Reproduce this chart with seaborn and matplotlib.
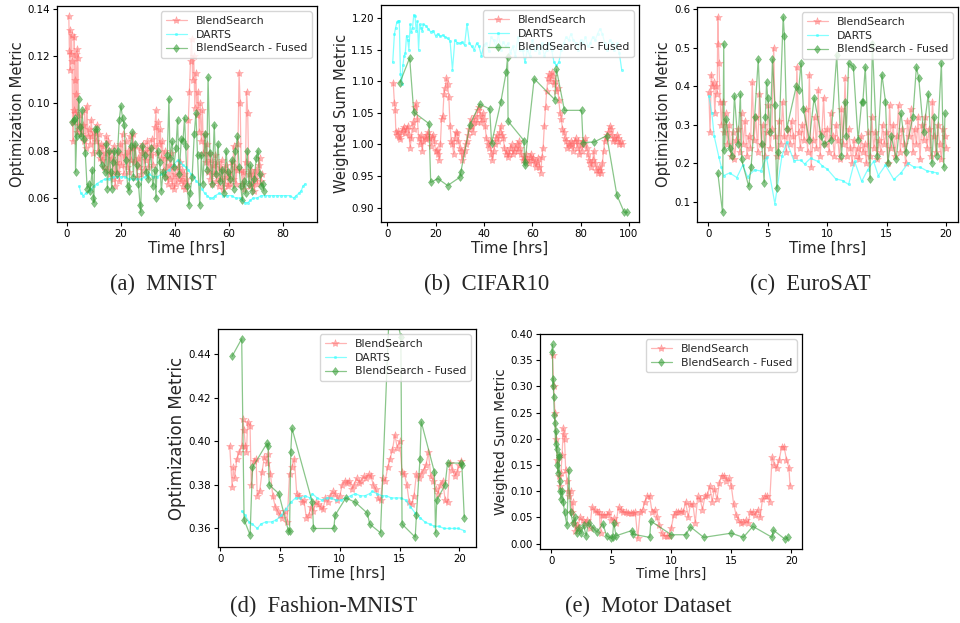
import numpy as np
import pandas as pd
import matplotlib
matplotlib.use("Agg")
import matplotlib.pyplot as plt
import seaborn as sns
from matplotlib.ticker import MultipleLocator, FormatStrFormatter

# ---------------- data (time [hrs], metric) ----------------
mnist_bs = [(0.7,0.137),(0.9,0.122),(1.1,0.114),(1.3,0.131),(1.5,0.121),(1.7,0.129),(1.9,0.118),(2.1,0.092),
 (2.3,0.084),(2.5,0.097),(2.7,0.128),(2.9,0.110),(3.1,0.096),(3.3,0.121),(3.5,0.104),(3.7,0.088),(3.9,0.123),
 (4.1,0.119),(4.3,0.091),(4.6,0.089),(5.0,0.095),(5.4,0.087),(5.8,0.091),(6.2,0.084),(6.6,0.097),(7.0,0.081),
 (7.4,0.099),(7.8,0.086),(8.2,0.089),(8.6,0.083),(9.0,0.093),(9.4,0.086),(9.8,0.079),(10.2,0.088),(10.6,0.084),
 (11.0,0.091),(11.4,0.080),(11.8,0.087),(12.2,0.077),(12.6,0.083),(13.0,0.076),(13.4,0.082),(13.8,0.073),
 (14.2,0.079),(14.6,0.086),(15.0,0.072),(15.4,0.084),(15.8,0.070),(16.2,0.080),(16.6,0.077),(17.0,0.068),
 (17.4,0.082),(17.8,0.065),(18.2,0.075),(18.6,0.071),(19.0,0.079),(19.4,0.067),(19.8,0.083),(20.2,0.074),
 (20.6,0.087),(21.0,0.070),(21.4,0.078),(21.8,0.084),(22.2,0.073),(22.6,0.080),(23.0,0.071),(23.4,0.086),
 (23.8,0.076),(24.2,0.081),(24.6,0.087),(25.0,0.075),(25.4,0.082),(25.8,0.069),(26.2,0.077),(26.6,0.073),
 (27.0,0.081),(27.4,0.070),(27.8,0.079),(28.2,0.083),(28.6,0.072),(29.0,0.080),(29.4,0.076),(29.8,0.084),
 (30.2,0.073),(30.6,0.081),(31.0,0.078),(31.4,0.085),(31.8,0.074),(32.2,0.082),(32.6,0.090),(33.0,0.097),
 (33.4,0.079),(33.8,0.092),(34.2,0.083),(34.6,0.089),(35.0,0.077),(35.4,0.084),(35.8,0.072),(36.2,0.080),
 (36.6,0.069),(37.0,0.077),(37.4,0.066),(37.8,0.074),(38.2,0.068),(38.6,0.079),(39.0,0.065),(39.4,0.073),
 (39.8,0.064),(40.2,0.070),(40.6,0.066),(41.0,0.073),(41.4,0.068),(41.8,0.075),(42.2,0.067),(42.6,0.072),
 (43.0,0.065),(43.4,0.070),(43.8,0.064),(44.2,0.068),(44.6,0.066),(45.0,0.093),(45.4,0.105),(45.8,0.118),
 (46.2,0.127),(46.6,0.110),(47.0,0.120),(47.4,0.098),(47.8,0.113),(48.2,0.095),(48.6,0.105),(49.0,0.088),
 (49.4,0.100),(49.8,0.084),(50.2,0.097),(50.6,0.079),(51.0,0.087),(51.4,0.075),(51.8,0.083),(52.2,0.071),
 (52.6,0.079),(53.0,0.068),(53.4,0.076),(53.8,0.066),(54.2,0.074),(54.6,0.070),(55.0,0.078),(55.4,0.067),
 (55.8,0.075),(56.2,0.065),(56.6,0.073),(57.0,0.068),(57.4,0.076),(57.8,0.064),(58.2,0.072),(58.6,0.066),
 (59.0,0.074),(59.4,0.069),(59.8,0.065),(60.2,0.071),(60.6,0.066),(61.0,0.075),(61.4,0.068),(61.8,0.082),
 (62.2,0.073),(62.6,0.066),(63.0,0.072),(63.4,0.083),(63.8,0.113),(64.2,0.100),(64.6,0.072),(65.0,0.066),
 (65.4,0.071),(65.8,0.064),(66.2,0.075),(66.6,0.105),(67.0,0.096),(67.4,0.070),(67.8,0.065),(68.2,0.072),
 (68.6,0.066),(69.0,0.070),(69.4,0.063),(69.8,0.068),(70.2,0.072),(70.6,0.066),(71.0,0.074),(71.4,0.077),
 (71.8,0.067),(72.2,0.070)]
mnist_darts = [(4.5,0.065),(5.2,0.062),(6.0,0.061),(7.0,0.062),(8.0,0.063),(9.0,0.064),(10.0,0.065),(11.0,0.066),
 (12.5,0.067),(14.0,0.068),(15.5,0.068),(17.0,0.069),(18.5,0.069),(20.0,0.069),(21.5,0.069),(23.0,0.068),
 (24.5,0.068),(26.0,0.068),(27.5,0.068),(29.0,0.069),(30.5,0.070),(32.0,0.069),(33.5,0.069),(35.0,0.070),
 (36.5,0.071),(38.0,0.072),(39.5,0.074),(41.0,0.076),(42.0,0.075),(43.0,0.074),(44.0,0.073),(45.0,0.072),
 (46.0,0.070),(47.0,0.069),(48.0,0.067),(49.0,0.066),(50.0,0.064),(51.0,0.062),(52.0,0.061),(53.0,0.060),
 (54.0,0.060),(55.0,0.061),(56.5,0.062),(58.0,0.061),(59.5,0.061),(61.0,0.061),(62.5,0.060),(64.0,0.060),
 (65.0,0.059),(66.0,0.058),(67.0,0.058),(68.0,0.059),(69.0,0.060),(70.5,0.060),(72.0,0.061),(73.5,0.061),
 (75.0,0.061),(76.5,0.061),(78.0,0.061),(79.5,0.061),(81.0,0.061),(82.5,0.061),(84.0,0.060),(85.0,0.061),
 (86.0,0.062),(86.8,0.063),(87.5,0.065),(88.3,0.066)]
mnist_fused = [(1.8,0.092),(2.5,0.093),(3.0,0.094),(3.2,0.071),(3.6,0.086),(4.4,0.102),(4.8,0.090),(5.3,0.086),
 (5.6,0.097),(6.2,0.085),(6.8,0.079),(7.5,0.064),(8.0,0.066),(8.6,0.063),(9.4,0.072),(9.8,0.060),(10.0,0.058),
 (10.4,0.089),(11.2,0.089),(12.0,0.079),(13.0,0.074),(14.0,0.071),(14.6,0.083),(15.0,0.064),(15.6,0.080),
 (16.2,0.071),(16.6,0.064),(17.0,0.075),(17.6,0.080),(18.4,0.070),(18.8,0.080),(19.4,0.093),(20.0,0.099),
 (20.6,0.094),(21.2,0.091),(21.8,0.076),(22.5,0.065),(23.0,0.063),(23.6,0.082),(24.2,0.088),(24.6,0.069),
 (25.2,0.083),(25.8,0.074),(26.5,0.066),(27.1,0.057),(27.3,0.054),(28.0,0.082),(28.8,0.078),(29.4,0.071),
 (30.2,0.068),(31.0,0.081),(31.8,0.065),(32.6,0.072),(33.0,0.060),(33.6,0.080),(34.4,0.075),(35.0,0.063),
 (35.6,0.071),(36.4,0.069),(37.2,0.078),(37.8,0.102),(38.2,0.077),(39.0,0.084),(39.6,0.073),(40.4,0.081),
 (41.0,0.093),(41.6,0.070),(42.4,0.085),(43.0,0.084),(43.6,0.094),(44.0,0.082),(44.6,0.065),(45.2,0.057),
 (45.6,0.062),(46.4,0.069),(47.2,0.087),(47.8,0.096),(48.4,0.078),(49.2,0.057),(49.8,0.078),(50.4,0.066),
 (51.2,0.087),(51.8,0.072),(52.3,0.111),(53.0,0.079),(53.8,0.066),(54.6,0.091),(55.2,0.070),(56.0,0.083),
 (56.8,0.067),(57.4,0.072),(58.2,0.062),(59.0,0.080),(59.6,0.071),(60.4,0.068),(61.2,0.076),(61.8,0.064),
 (62.4,0.080),(63.2,0.086),(63.8,0.073),(64.4,0.065),(65.0,0.059),(65.6,0.067),(66.2,0.062),(66.8,0.080),
 (67.4,0.066),(68.0,0.074),(68.6,0.063),(69.4,0.068),(70.2,0.077),(70.8,0.080),(71.4,0.070),(72.0,0.065),
 (72.6,0.066),(73.0,0.063)]

cifar_bs = [(2.5,1.098),(3.0,1.065),(3.3,1.055),(3.6,1.020),(4.0,1.015),(4.5,1.022),(5.0,1.012),(5.5,1.008),
 (6.0,1.020),(6.5,1.025),(7.0,1.028),(7.5,1.018),(8.0,1.025),(8.5,1.030),(9.0,1.015),(9.5,0.995),(10.0,1.010),
 (10.5,1.035),(11.0,1.025),(11.5,1.060),(12.0,1.065),(12.5,1.040),(13.0,1.010),(13.5,1.000),(14.0,1.015),
 (14.5,0.990),(15.0,1.005),(15.5,1.012),(16.0,1.008),(16.5,1.015),(17.0,1.020),(17.5,1.010),(18.0,0.998),
 (18.5,1.012),(19.0,1.015),(19.5,1.005),(20.0,0.990),(20.5,0.992),(21.0,0.985),(21.5,0.975),(22.0,1.000),
 (22.5,1.040),(23.0,1.045),(23.5,1.080),(24.0,1.090),(24.5,1.105),(25.0,1.095),(25.5,1.075),(26.0,1.030),
 (26.5,1.005),(27.0,1.000),(27.5,0.985),(28.0,1.010),(28.5,1.020),(29.0,1.018),(29.5,1.005),(30.0,0.995),
 (30.5,0.990),(31.0,0.975),(31.5,0.985),(32.0,0.992),(32.5,1.000),(33.0,1.005),(33.5,1.015),(34.0,1.025),
 (34.5,1.040),(35.0,1.030),(35.5,1.020),(36.0,1.035),(36.5,1.045),(37.0,1.035),(37.5,1.055),(38.0,1.060),
 (38.5,1.045),(39.0,1.035),(39.5,1.050),(40.0,1.040),(40.5,1.030),(41.0,1.010),(41.5,1.000),(42.0,0.995),
 (42.5,1.005),(43.0,0.985),(43.5,0.975),(44.0,0.990),(44.5,1.000),(45.0,1.010),(45.5,1.015),(46.0,1.005),
 (46.5,1.020),(47.0,1.030),(47.5,1.015),(48.0,1.010),(48.5,0.995),(49.0,0.985),(49.5,0.990),(50.0,0.980),
 (50.5,0.985),(51.0,0.995),(51.5,1.000),(52.0,0.985),(52.5,0.990),(53.0,0.995),(53.5,1.000),(54.0,0.990),
 (54.5,1.005),(55.0,0.995),(55.5,0.985),(56.0,0.975),(56.5,0.980),(57.0,0.975),(57.5,0.985),(58.0,0.975),
 (58.5,0.970),(59.0,0.980),(59.5,0.985),(60.0,0.975),(60.5,0.978),(61.0,0.970),(61.5,0.965),(62.0,0.972),
 (62.5,0.978),(63.0,0.965),(63.5,0.955),(64.0,0.980),(64.5,0.995),(65.0,1.030),(65.5,1.060),(66.0,1.085),
 (66.5,1.105),(67.0,1.112),(67.5,1.100),(68.0,1.115),(68.5,1.108),(69.0,1.095),(69.5,1.100),(70.0,1.085),
 (70.5,1.090),(71.0,1.070),(71.5,1.050),(72.0,1.040),(72.5,1.025),(73.0,1.020),(73.5,1.010),(74.0,1.005),
 (74.5,0.995),(75.0,1.000),(75.5,0.998),(76.0,1.005),(76.5,1.000),(77.0,0.990),(77.5,1.005),(78.0,1.010),
 (78.5,0.995),(79.0,1.005),(79.5,0.985),(80.0,1.000),(80.5,0.990),(81.0,1.005),(81.5,1.000),(82.0,1.010),
 (82.5,0.995),(83.0,0.985),(83.5,0.975),(84.0,0.970),(84.5,0.965),(85.0,0.975),(85.5,0.990),(86.0,0.970),
 (86.5,0.960),(87.0,0.955),(87.5,0.965),(88.0,0.960),(88.5,0.955),(89.0,0.970),(89.5,0.990),(90.0,1.005),
 (90.5,1.010),(91.0,1.015),(91.5,1.020),(92.0,1.030),(92.5,1.025),(93.0,1.015),(93.5,1.005),(94.0,1.010),
 (94.5,1.005),(95.0,1.015),(95.5,1.010),(96.0,1.000),(96.5,1.005),(97.0,1.000)]
cifar_darts = [(2.3,1.130),(3.0,1.175),(3.5,1.185),(4.0,1.193),(4.5,1.195),(5.0,1.196),(5.5,1.112),(6.0,1.095),
 (6.5,1.125),(7.0,1.140),(7.5,1.145),(8.0,1.172),(8.5,1.165),(9.0,1.150),(9.5,1.190),(10.0,1.178),(10.5,1.185),
 (11.0,1.205),(11.5,1.203),(12.0,1.180),(12.5,1.195),(13.0,1.150),(13.5,1.190),(14.0,1.185),(14.5,1.180),
 (15.0,1.190),(16.0,1.188),(17.0,1.183),(18.0,1.178),(19.0,1.180),(20.0,1.172),(21.0,1.175),(22.0,1.171),
 (23.0,1.173),(24.0,1.170),(25.0,1.168),(26.0,1.164),(27.0,1.118),(28.0,1.165),(29.0,1.161),(30.0,1.160),
 (31.0,1.162),(32.0,1.157),(33.0,1.191),(34.0,1.160),(35.0,1.155),(36.0,1.150),(37.0,1.160),(38.0,1.155),
 (39.0,1.140),(40.0,1.158),(41.0,1.160),(42.0,1.148),(43.0,1.170),(44.0,1.165),(45.0,1.155),(46.0,1.175),
 (47.0,1.150),(48.0,1.162),(49.0,1.155),(50.0,1.160),(51.0,1.145),(52.0,1.155),(53.0,1.140),(54.0,1.170),
 (55.0,1.150),(56.0,1.150),(57.0,1.130),(58.0,1.150),(59.0,1.140),(60.0,1.165),(61.0,1.150),(62.0,1.155),
 (63.0,1.145),(64.0,1.160),(65.0,1.140),(66.0,1.150),(67.0,1.160),(68.0,1.150),(69.0,1.130),(70.0,1.125),
 (71.0,1.130),(72.0,1.150),(73.0,1.160),(74.0,1.170),(75.0,1.165),(76.0,1.175),(77.0,1.165),(78.0,1.160),
 (79.0,1.150),(80.0,1.165),(81.0,1.160),(82.0,1.170),(83.0,1.155),(84.0,1.160),(85.0,1.170),(86.0,1.165),
 (87.0,1.175),(88.0,1.183),(89.0,1.175),(90.0,1.160),(91.0,1.150),(92.0,1.165),(93.0,1.160),(94.0,1.150),
 (95.0,1.160),(96.0,1.145),(97.0,1.118)]
cifar_fused = [(5.3,1.098),(9.3,1.137),(11.0,1.051),(17.3,1.033),(18.0,0.940),(21.0,0.946),(25.0,0.935),
 (30.0,0.948),(30.5,0.957),(34.2,1.031),(38.3,1.064),(42.4,1.056),(43.2,1.002),(47.0,1.067),(49.2,1.114),
 (49.8,1.138),(50.0,1.037),(56.6,1.006),(56.8,0.968),(57.0,0.972),(60.8,1.104),(69.3,1.071),(70.0,1.119),
 (73.3,1.054),(80.4,1.054),(81.0,1.003),(85.7,1.004),(90.8,1.014),(95.0,0.920),(98.0,0.893),(99.3,0.893)]

euro_bs = [(0.05,0.385),(0.15,0.28),(0.25,0.43),(0.35,0.40),(0.45,0.41),(0.55,0.33),(0.65,0.40),(0.75,0.38),
 (0.8,0.58),(0.85,0.51),(0.9,0.46),(1.0,0.36),(1.1,0.30),(1.2,0.36),(1.3,0.28),(1.45,0.33),(1.6,0.25),
 (1.75,0.30),(1.9,0.22),(2.05,0.28),(2.2,0.21),(2.35,0.26),(2.5,0.29),(2.65,0.23),(2.8,0.33),(2.95,0.25),
 (3.1,0.31),(3.25,0.22),(3.4,0.27),(3.55,0.24),(3.7,0.41),(3.85,0.26),(4.0,0.32),(4.15,0.23),(4.3,0.38),
 (4.45,0.25),(4.6,0.30),(4.75,0.22),(4.9,0.28),(5.05,0.35),(5.2,0.24),(5.35,0.29),(5.5,0.50),(5.65,0.27),
 (5.8,0.22),(5.95,0.31),(6.1,0.25),(6.25,0.36),(6.4,0.27),(6.55,0.23),(6.7,0.29),(6.85,0.25),(7.0,0.31),
 (7.15,0.27),(7.3,0.22),(7.45,0.45),(7.6,0.28),(7.75,0.24),(7.9,0.30),(8.05,0.26),(8.2,0.34),(8.35,0.23),
 (8.5,0.43),(8.65,0.19),(8.8,0.26),(8.95,0.32),(9.1,0.24),(9.25,0.39),(9.4,0.22),(9.55,0.28),(9.7,0.37),
 (9.85,0.25),(10.0,0.29),(10.15,0.23),(10.3,0.33),(10.45,0.27),(10.6,0.22),(10.75,0.30),(10.9,0.26),
 (11.05,0.21),(11.2,0.34),(11.35,0.25),(11.5,0.42),(11.65,0.22),(11.8,0.29),(11.95,0.24),(12.1,0.20),
 (12.25,0.26),(12.4,0.22),(12.55,0.24),(12.7,0.21),(12.85,0.27),(13.0,0.23),(13.15,0.25),(13.3,0.20),
 (13.45,0.28),(13.6,0.22),(13.75,0.32),(13.9,0.24),(14.05,0.28),(14.2,0.21),(14.35,0.26),(14.5,0.23),
 (14.65,0.30),(14.8,0.25),(14.95,0.28),(15.1,0.20),(15.25,0.35),(15.4,0.24),(15.55,0.30),(15.7,0.22),
 (15.85,0.27),(16.0,0.35),(16.15,0.23),(16.3,0.29),(16.45,0.25),(16.6,0.20),(16.75,0.31),(16.9,0.27),
 (17.05,0.34),(17.2,0.23),(17.35,0.29),(17.5,0.25),(17.65,0.32),(17.8,0.21),(17.95,0.30),(18.1,0.26),
 (18.25,0.32),(18.4,0.24),(18.55,0.29),(18.7,0.22),(18.85,0.36),(19.0,0.27),(19.15,0.23),(19.3,0.30),
 (19.45,0.25),(19.6,0.21),(19.75,0.29),(19.9,0.27),(20.0,0.24)]
euro_darts = [(0.05,0.375),(0.3,0.33),(0.5,0.27),(0.9,0.215),(1.1,0.19),(1.3,0.168),(1.8,0.175),(2.4,0.163),
 (2.9,0.195),(3.3,0.165),(3.9,0.183),(4.4,0.18),(4.9,0.215),(5.6,0.095),(6.2,0.22),(6.6,0.255),(7.2,0.207),
 (7.8,0.208),(8.1,0.198),(8.6,0.213),(9.2,0.205),(9.6,0.193),(10.0,0.185),(10.7,0.16),(11.3,0.155),
 (11.8,0.145),(12.3,0.205),(12.9,0.153),(13.4,0.183),(13.9,0.205),(14.3,0.168),(14.9,0.195),(15.6,0.158),
 (16.2,0.175),(16.8,0.20),(17.3,0.19),(17.8,0.19),(18.4,0.18),(18.8,0.178),(19.2,0.175)]
euro_fused = [(0.8,0.175),(1.2,0.073),(1.3,0.51),(1.35,0.235),(1.5,0.315),(1.8,0.24),(2.0,0.22),(2.2,0.375),
 (2.5,0.25),(2.7,0.38),(2.8,0.21),(3.4,0.14),(3.6,0.19),(3.9,0.32),(4.2,0.47),(4.5,0.25),(4.7,0.15),
 (4.8,0.32),(4.9,0.41),(5.0,0.37),(5.2,0.28),(5.4,0.47),(5.6,0.35),(5.75,0.135),(5.9,0.23),(6.3,0.58),
 (6.4,0.53),(6.6,0.29),(7.4,0.40),(7.6,0.39),(7.8,0.46),(8.0,0.34),(8.5,0.26),(8.9,0.37),(9.5,0.27),
 (9.7,0.25),(10.3,0.26),(10.8,0.48),(11.2,0.22),(11.5,0.36),(11.6,0.27),(11.8,0.46),(12.2,0.45),(12.6,0.26),
 (12.9,0.36),(13.0,0.36),(13.2,0.45),(13.6,0.16),(13.8,0.51),(14.2,0.22),(14.6,0.43),(14.9,0.36),(15.1,0.20),
 (15.4,0.27),(15.8,0.21),(16.2,0.33),(16.6,0.23),(17.2,0.32),(17.5,0.45),(17.7,0.42),(18.1,0.28),(18.5,0.38),
 (18.8,0.20),(19.0,0.32),(19.2,0.22),(19.6,0.46),(19.8,0.19),(19.9,0.33)]

fashion_bs = [(0.8,0.398),(1.0,0.379),(1.1,0.388),(1.2,0.383),(1.4,0.392),(1.6,0.395),(1.8,0.398),(1.9,0.410),
 (2.0,0.405),(2.1,0.398),(2.2,0.395),(2.3,0.409),(2.5,0.407),(2.6,0.380),(2.8,0.391),(3.0,0.392),(3.1,0.375),
 (3.3,0.377),(3.5,0.386),(3.7,0.393),(3.9,0.390),(4.0,0.394),(4.2,0.385),(4.4,0.375),(4.6,0.370),(4.8,0.368),
 (5.0,0.366),(5.2,0.365),(5.4,0.368),(5.6,0.363),(5.8,0.385),(6.0,0.388),(6.2,0.392),(6.4,0.376),(6.6,0.375),
 (6.8,0.372),(7.0,0.373),(7.2,0.365),(7.4,0.366),(7.6,0.370),(7.8,0.368),(8.0,0.372),(8.2,0.371),(8.4,0.370),
 (8.6,0.369),(8.8,0.374),(9.0,0.372),(9.2,0.375),(9.4,0.377),(9.6,0.376),(9.8,0.373),(10.0,0.375),(10.2,0.380),
 (10.4,0.382),(10.6,0.381),(10.8,0.382),(11.0,0.378),(11.2,0.380),(11.4,0.383),(11.6,0.381),(11.8,0.382),
 (12.0,0.384),(12.2,0.383),(12.4,0.385),(12.6,0.384),(12.8,0.380),(13.0,0.378),(13.2,0.374),(13.4,0.373),
 (13.6,0.383),(13.8,0.382),(14.0,0.388),(14.2,0.392),(14.4,0.396),(14.6,0.403),(14.8,0.397),(15.0,0.400),
 (15.2,0.386),(15.4,0.385),(15.6,0.380),(15.8,0.372),(16.0,0.371),(16.2,0.375),(16.4,0.385),(16.6,0.383),
 (16.8,0.385),(17.0,0.387),(17.2,0.389),(17.4,0.395),(17.6,0.384),(17.8,0.382),(18.0,0.378),(18.2,0.376),
 (18.4,0.380),(18.6,0.382),(18.8,0.373),(19.0,0.372),(19.2,0.390),(19.4,0.387),(19.6,0.384),(19.8,0.386),
 (20.0,0.389),(20.1,0.391)]
fashion_darts = [(1.8,0.368),(2.1,0.366),(2.4,0.363),(2.7,0.362),(3.1,0.360),(3.4,0.362),(3.8,0.363),
 (4.3,0.363),(4.7,0.364),(5.1,0.366),(5.5,0.369),(5.9,0.372),(6.3,0.374),(6.7,0.374),(7.1,0.375),(7.5,0.374),
 (7.7,0.376),(8.1,0.374),(8.5,0.373),(8.9,0.374),(9.3,0.374),(9.7,0.373),(10.1,0.373),(10.5,0.374),
 (10.9,0.375),(11.3,0.376),(11.7,0.375),(12.1,0.375),(12.5,0.376),(12.7,0.377),(13.1,0.376),(13.5,0.375),
 (13.9,0.375),(14.3,0.374),(14.7,0.374),(15.1,0.374),(15.5,0.373),(15.9,0.370),(16.3,0.367),(16.7,0.365),
 (17.1,0.363),(17.5,0.362),(17.9,0.361),(18.3,0.361),(18.7,0.360),(19.1,0.360),(19.5,0.360),(19.9,0.360),
 (20.4,0.359)]
fashion_fused = [(1.0,0.439),(1.8,0.447),(2.0,0.364),(2.5,0.357),(2.7,0.388),(3.9,0.399),(4.0,0.398),
 (4.1,0.380),(4.9,0.376),(5.7,0.359),(5.8,0.359),(5.9,0.395),(6.0,0.406),(7.7,0.372),(7.8,0.360),(9.5,0.360),
 (9.6,0.366),(10.5,0.374),(11.3,0.372),(12.3,0.367),(12.5,0.362),(13.4,0.358),(14.2,0.470),(15.1,0.448),
 (15.2,0.362),(16.3,0.356),(16.4,0.366),(16.7,0.392),(16.8,0.409),(17.9,0.386),(18.0,0.358),(18.1,0.373),
 (18.8,0.380),(19.0,0.390),(20.1,0.390),(20.2,0.389),(20.4,0.365)]

motor_bs = [(0.1,0.36),(0.2,0.30),(0.3,0.25),(0.4,0.20),(0.5,0.16),(0.6,0.13),(0.7,0.11),(0.8,0.135),(0.9,0.17),
 (1.0,0.22),(1.05,0.21),(1.1,0.20),(1.2,0.14),(1.3,0.12),(1.4,0.10),(1.5,0.09),(1.6,0.10),(1.7,0.06),(1.8,0.08),
 (1.9,0.04),(2.0,0.025),(2.1,0.035),(2.2,0.03),(2.4,0.05),(2.6,0.045),(2.8,0.04),(3.0,0.045),(3.2,0.03),
 (3.4,0.07),(3.6,0.065),(3.8,0.06),(4.0,0.06),(4.1,0.02),(4.2,0.055),(4.4,0.055),(4.6,0.055),(4.8,0.06),
 (5.0,0.045),(5.2,0.048),(5.4,0.04),(5.6,0.07),(5.8,0.065),(6.0,0.06),(6.2,0.06),(6.4,0.058),(6.6,0.058),
 (6.8,0.058),(7.0,0.06),(7.2,0.01),(7.4,0.06),(7.6,0.065),(7.8,0.08),(8.0,0.09),(8.2,0.09),(8.4,0.06),
 (8.6,0.065),(8.8,0.05),(9.0,0.035),(9.2,0.02),(9.4,0.015),(9.6,0.015),(9.8,0.015),(10.0,0.03),(10.2,0.055),
 (10.4,0.06),(10.6,0.06),(10.8,0.062),(11.0,0.06),(11.2,0.08),(11.4,0.05),(11.6,0.075),(11.8,0.075),
 (12.0,0.04),(12.2,0.09),(12.4,0.085),(12.6,0.065),(12.8,0.09),(13.0,0.092),(13.2,0.11),(13.4,0.08),
 (13.6,0.105),(13.8,0.085),(14.0,0.115),(14.2,0.13),(14.4,0.13),(14.6,0.12),(14.8,0.125),(15.0,0.11),
 (15.2,0.075),(15.4,0.055),(15.6,0.045),(15.8,0.04),(16.0,0.042),(16.2,0.045),(16.4,0.04),(16.6,0.06),
 (16.8,0.06),(17.0,0.055),(17.2,0.065),(17.4,0.05),(17.6,0.085),(17.8,0.09),(18.0,0.09),(18.2,0.08),
 (18.4,0.165),(18.6,0.15),(18.8,0.145),(19.0,0.16),(19.2,0.185),(19.4,0.185),(19.6,0.16),(19.8,0.145),
 (19.9,0.11)]
motor_fused = [(0.05,0.365),(0.1,0.38),(0.12,0.30),(0.15,0.315),(0.2,0.28),(0.25,0.245),(0.3,0.23),(0.35,0.19),
 (0.4,0.215),(0.45,0.18),(0.5,0.15),(0.55,0.135),(0.6,0.165),(0.65,0.17),(0.7,0.12),(0.75,0.10),(0.8,0.085),
 (0.9,0.10),(1.0,0.08),(1.1,0.06),(1.3,0.035),(1.45,0.14),(1.6,0.06),(1.8,0.04),(2.0,0.05),(2.1,0.02),
 (2.3,0.03),(2.5,0.02),(2.7,0.035),(2.9,0.015),(3.1,0.04),(3.5,0.03),(3.8,0.022),(4.3,0.038),(4.6,0.015),
 (5.0,0.01),(5.1,0.012),(5.2,0.04),(5.4,0.015),(6.7,0.025),(6.8,0.018),(8.2,0.012),(8.3,0.043),(10.0,0.017),
 (11.2,0.017),(11.6,0.032),(12.7,0.012),(15.0,0.02),(16.0,0.012),(16.8,0.033),(18.4,0.012),(18.5,0.026),
 (19.5,0.008),(19.7,0.012)]

labels = ["BlendSearch", "DARTS", "BlendSearch - Fused"]
captions = ["(a)  MNIST", "(b)  CIFAR10", "(c)  EuroSAT", "(d)  Fashion-MNIST", "(e)  Motor Dataset"]

# ---------------- style ----------------
sns.set_style("ticks", {"axes.edgecolor": "black", "xtick.color": "black", "ytick.color": "black"})
plt.rcParams["font.family"] = ["DejaVu Sans"]

RED, CYAN, GREEN = "#ff6a6a", "#33ffff", "#3ca03c"

fig = plt.figure(figsize=(9.6, 6.23), dpi=100)

def add_axes(px):
    l, t, r, b = px
    return fig.add_axes([l / 960, 1 - b / 623, (r - l) / 960, (b - t) / 623])

def series(ax, data, color, marker, ms, alpha, label, lw=0.9):
    df = pd.DataFrame(data, columns=["t", "v"])
    sns.lineplot(data=df, x="t", y="v", ax=ax, color=color, marker=marker, markersize=ms,
                 linewidth=lw, alpha=alpha, label=label, estimator=None, sort=False,
                 markeredgecolor=color, markeredgewidth=0.4)

panels = [
    dict(box=(57, 6, 317, 222), bs=mnist_bs, darts=mnist_darts, fused=mnist_fused,
         ylabel="Optimization Metric", xstep=20, ystep=0.02, yfmt="%.2f", cap=(163, 284)),
    dict(box=(381, 5, 639, 222), bs=cifar_bs, darts=cifar_darts, fused=cifar_fused,
         ylabel="Weighted Sum Metric", xstep=20, ystep=0.05, yfmt="%.2f", cap=(487, 284)),
    dict(box=(697, 7, 958, 222), bs=euro_bs, darts=euro_darts, fused=euro_fused,
         ylabel="Optimization Metric", xstep=5, ystep=0.1, yfmt="%.1f", cap=(810, 284)),
    dict(box=(218, 329, 476, 547), bs=fashion_bs, darts=fashion_darts, fused=fashion_fused,
         ylabel="Optimization Metric", xstep=5, ystep=0.02, yfmt="%.2f", cap=(324, 606),
         ylim=(0.3515, 0.4515), ylfs=12.0),
    dict(box=(540, 334, 802, 549), bs=motor_bs, darts=None, fused=motor_fused,
         ylabel="Weighted Sum Metric", xstep=5, ystep=0.05, yfmt="%.2f", cap=(648, 606),
         ylim=(-0.0102, 0.40), xlfs=9.8, ylfs=9.8),
]

for i, p in enumerate(panels):
    ax = add_axes(p["box"])
    series(ax, p["bs"], RED, "*", 6, 0.5, labels[0])
    if p["darts"] is not None:
        series(ax, p["darts"], CYAN, ".", 3.5, 0.6, labels[1])
    series(ax, p["fused"], GREEN, "d", 4.5, 0.6, labels[2])
    ax.xaxis.set_major_locator(MultipleLocator(p["xstep"]))
    ax.yaxis.set_major_locator(MultipleLocator(p["ystep"]))
    ax.yaxis.set_major_formatter(FormatStrFormatter(p["yfmt"]))
    if "ylim" in p:
        ax.set_ylim(*p["ylim"])
    ax.set_xlabel("Time [hrs]", fontsize=p.get("xlfs", 10.8), labelpad=1)
    ax.set_ylabel(p["ylabel"], fontsize=p.get("ylfs", 10.6), labelpad=2)
    ax.tick_params(labelsize=7.4, length=3, width=0.8, pad=2)
    for s in ax.spines.values():
        s.set_linewidth(0.9)
    ax.legend(loc="upper right", fontsize=7.8, frameon=True, framealpha=0.8,
              edgecolor="#cccccc", fancybox=True, borderpad=0.4, labelspacing=0.35,
              handlelength=2.0)
    fig.text(p["cap"][0] / 960, 1 - p["cap"][1] / 623, captions[i], ha="center", va="center",
             fontsize=16.3, family="Liberation Serif")

fig.savefig("out.png", dpi=100)
